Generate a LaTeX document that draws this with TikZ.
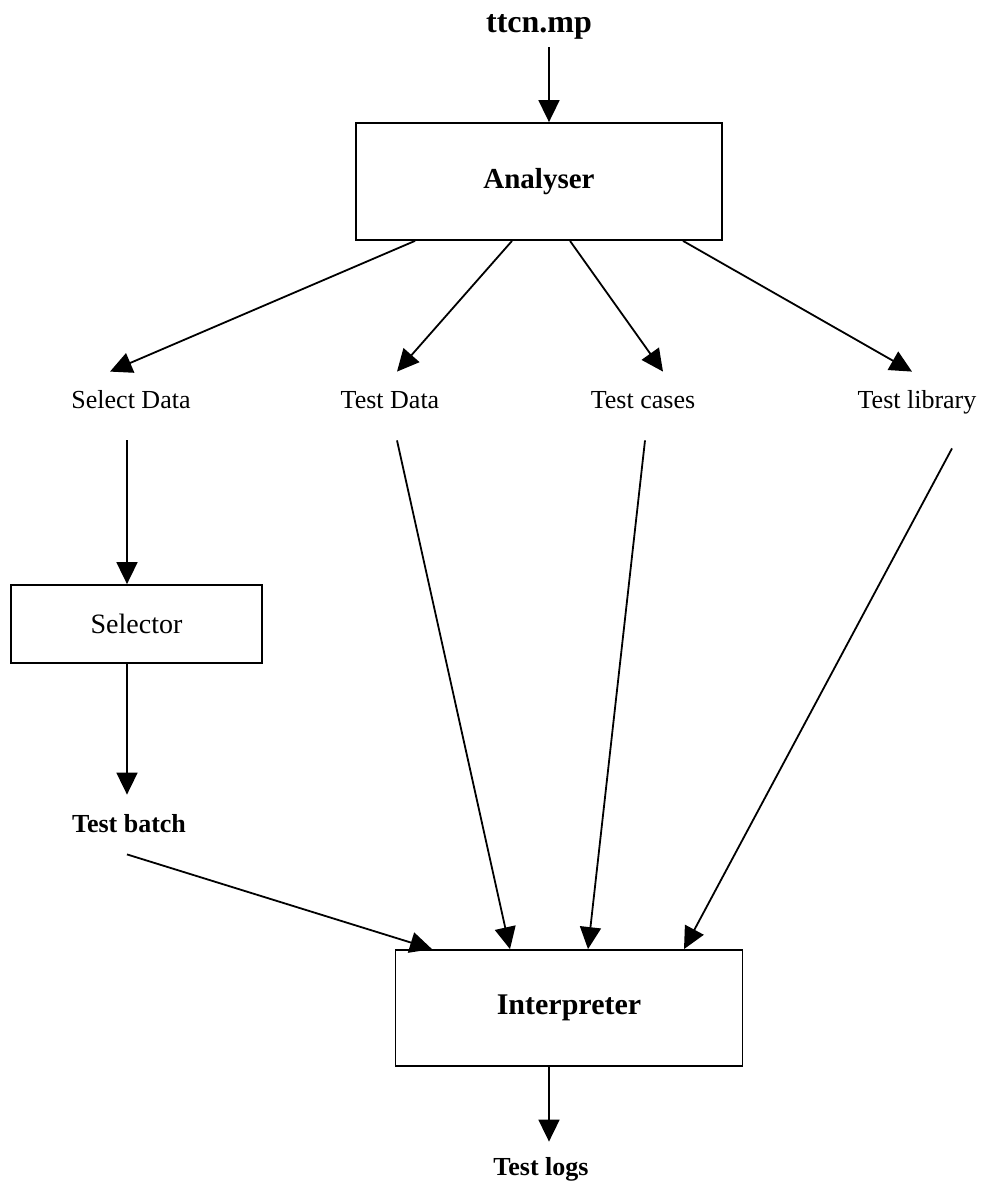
\documentclass[tikz,border=0pt]{standalone}
\usepackage{fontspec}
\setmainfont{Liberation Serif}
\usetikzlibrary{arrows.meta}

\begin{document}
\begin{tikzpicture}[
x=0.5pt,
y=-0.5pt,
box/.style={
  draw,
  line width=0.9pt,
  inner sep=0pt,
  font=\fontsize{14}{16}\selectfont
  },
lbl/.style={
  anchor=base,
  text height=9pt,
  text depth=3pt,
  inner sep=4pt,
  font=\fontsize{13}{15}\selectfont
  },
arr/.style={
  -{Triangle[length=11pt,width=10.5pt]},
  line width=0.9pt
  }
]
\useasboundingbox (0,0) rectangle (981,1182);

% input and analyser
\node[lbl,font=\fontsize{16}{18}\selectfont\bfseries] (ttcn) at (539,33) {ttcn.mp};
\node[box,minimum width=183pt,minimum height=58.5pt,font=\fontsize{14.5}{17}\selectfont\bfseries] (analyser) at (539,181.5) {Analyser};

% outputs of the analyser
\node[lbl] (seldata) at (131,408) {Select Data};
\node[lbl] (testdata) at (390,408) {Test Data};
\node[lbl] (testcases) at (643,408) {Test cases};
\node[lbl] (testlib) at (917,408) {Test library};

% selector branch
\node[box,minimum width=125.5pt,minimum height=39pt] (selector) at (136.5,624) {Selector};
\node[lbl,font=\fontsize{13}{15}\selectfont\bfseries] (batch) at (129,832) {Test batch};

% interpreter
\node[box,minimum width=173.5pt,minimum height=58pt,font=\fontsize{15}{17}\selectfont\bfseries] (interp) at (569,1008) {Interpreter};
\node[lbl,font=\fontsize{13}{15}\selectfont\bfseries] (logs) at (541,1175) {Test logs};

\draw[arr] ([xshift=5pt]ttcn.south) -- ([xshift=5pt]analyser.north);

\draw[arr] ([xshift=-62pt]analyser.south) -- ([xshift=-10.5pt,yshift=5pt]seldata.north);
\draw[arr] ([xshift=-13.5pt]analyser.south) -- ([xshift=3.5pt,yshift=5pt]testdata.north);
\draw[arr] ([xshift=15.5pt]analyser.south) -- ([xshift=10pt,yshift=5pt]testcases.north);
\draw[arr] ([xshift=72pt]analyser.south) -- ([xshift=-2.5pt,yshift=5pt]testlib.north);

\draw[arr] ([xshift=-2pt,yshift=-9pt]seldata.south) -- ([xshift=-4.75pt]selector.north);
\draw[arr] ([xshift=-4.75pt]selector.south) -- ([xshift=-1pt,yshift=5.5pt]batch.north);

\draw[arr] ([xshift=-1pt,yshift=-4pt]batch.south) -- ([xshift=-68.5pt]interp.north);
\draw[arr] ([xshift=3.5pt,yshift=-9pt]testdata.south) -- ([xshift=-29.5pt]interp.north);
\draw[arr] ([xshift=1pt,yshift=-9pt]testcases.south) -- ([xshift=9.5pt]interp.north);
\draw[arr] ([xshift=17.5pt,yshift=-13pt]testlib.south) -- ([xshift=57.5pt]interp.north);

\draw[arr] ([xshift=-10pt]interp.south) -- ([xshift=4pt,yshift=3.5pt]logs.north);

\end{tikzpicture}
\end{document}
